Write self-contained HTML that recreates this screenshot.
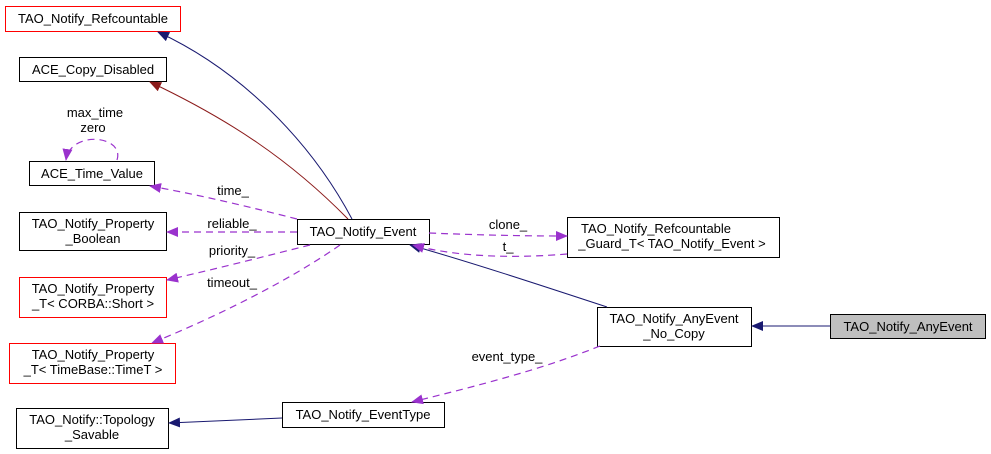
<html><body style="margin:0;background:#fff">
<svg width="991" height="454" xmlns="http://www.w3.org/2000/svg" font-family="Liberation Sans, sans-serif" font-size="13">
<defs>
<marker id="nb" markerWidth="12" markerHeight="10" refX="11" refY="5" orient="auto" markerUnits="userSpaceOnUse"><path d="M0,0 L12,5 L0,10z" fill="#191970"/></marker>
<marker id="rd" markerWidth="12" markerHeight="10" refX="11" refY="5" orient="auto" markerUnits="userSpaceOnUse"><path d="M0,0 L12,5 L0,10z" fill="#8b1a1a"/></marker>
<marker id="pu" markerWidth="12" markerHeight="10" refX="11" refY="5" orient="auto" markerUnits="userSpaceOnUse"><path d="M0,0 L12,5 L0,10z" fill="#9a32cd"/></marker>
</defs>
<g fill="#fff" stroke-width="1">
<rect x="5.5" y="6.5" width="175" height="25" stroke="#f00"/>
<rect x="19.5" y="57.5" width="147" height="24" stroke="#000"/>
<rect x="29.5" y="161.5" width="125" height="24" stroke="#000"/>
<rect x="19.5" y="212.5" width="147" height="38" stroke="#000"/>
<rect x="19.5" y="277.5" width="147" height="40" stroke="#f00"/>
<rect x="9.5" y="343.5" width="166" height="40" stroke="#f00"/>
<rect x="16.5" y="408.5" width="152" height="40" stroke="#000"/>
<rect x="282.5" y="402.5" width="162" height="25" stroke="#000"/>
<rect x="297.5" y="219.5" width="132" height="25" stroke="#000"/>
<rect x="567.5" y="217.5" width="212" height="40" stroke="#000"/>
<rect x="597.5" y="307.5" width="154" height="39" stroke="#000"/>
<rect x="830.5" y="314.5" width="155" height="24" fill="#bfbfbf" stroke="#000"/>
</g>
<g fill="none">
<path d="M352,219 C310,140 240,70 158,32" stroke="#191970" marker-end="url(#nb)"/>
<path d="M348,219 C290,160 230,120 150,82" stroke="#8b1a1a" marker-end="url(#rd)"/>
<path d="M607,307 C540,285 470,262 410,245" stroke="#191970" marker-end="url(#nb)"/>
<path d="M830,326 L752,326" stroke="#191970" marker-end="url(#nb)"/>
<path d="M282,418 L169,423" stroke="#191970" marker-end="url(#nb)"/>
<g stroke="#9a32cd" stroke-dasharray="7,5" stroke-width="1.2">
<path d="M297,219 C250,207 200,195 150,186" marker-end="url(#pu)"/>
<path d="M297,232 L167,232" marker-end="url(#pu)"/>
<path d="M310,245 C270,255 220,268 167,280" marker-end="url(#pu)"/>
<path d="M340,245 C290,280 220,315 152,343" marker-end="url(#pu)"/>
<path d="M429,233 C480,235 520,236 567,236" marker-end="url(#pu)"/>
<path d="M567,254 C520,258 460,258 413,245" marker-end="url(#pu)"/>
<path d="M600,346 C540,370 480,385 412,402" marker-end="url(#pu)"/>
<path d="M117,160 C125,135 70,130 66,160" marker-end="url(#pu)"/>
</g>
</g>
<g fill="#000" text-anchor="middle">
<text x="93" y="23">TAO_Notify_Refcountable</text>
<text x="93" y="74">ACE_Copy_Disabled</text>
<text x="92" y="178">ACE_Time_Value</text>
<text x="93" y="228">TAO_Notify_Property</text>
<text x="93" y="243">_Boolean</text>
<text x="93" y="293">TAO_Notify_Property</text>
<text x="93" y="308">_T&lt; CORBA::Short &gt;</text>
<text x="93" y="359">TAO_Notify_Property</text>
<text x="93" y="374">_T&lt; TimeBase::TimeT &gt;</text>
<text x="92" y="424">TAO_Notify::Topology</text>
<text x="92" y="439">_Savable</text>
<text x="363" y="419">TAO_Notify_EventType</text>
<text x="363" y="236">TAO_Notify_Event</text>
<text x="656" y="233">TAO_Notify_Refcountable</text>
<text x="672" y="248">_Guard_T&lt; TAO_Notify_Event &gt;</text>
<text x="674" y="323">TAO_Notify_AnyEvent</text>
<text x="674" y="338">_No_Copy</text>
<text x="908" y="331">TAO_Notify_AnyEvent</text>
<text x="95" y="117">max_time</text>
<text x="93" y="132">zero</text>
<text x="233" y="195">time_</text>
<text x="232" y="228">reliable_</text>
<text x="232" y="255">priority_</text>
<text x="232" y="287">timeout_</text>
<text x="508" y="229">clone_</text>
<text x="508" y="251">t_</text>
<text x="507" y="361">event_type_</text>
</g>
</svg>
</body></html>
